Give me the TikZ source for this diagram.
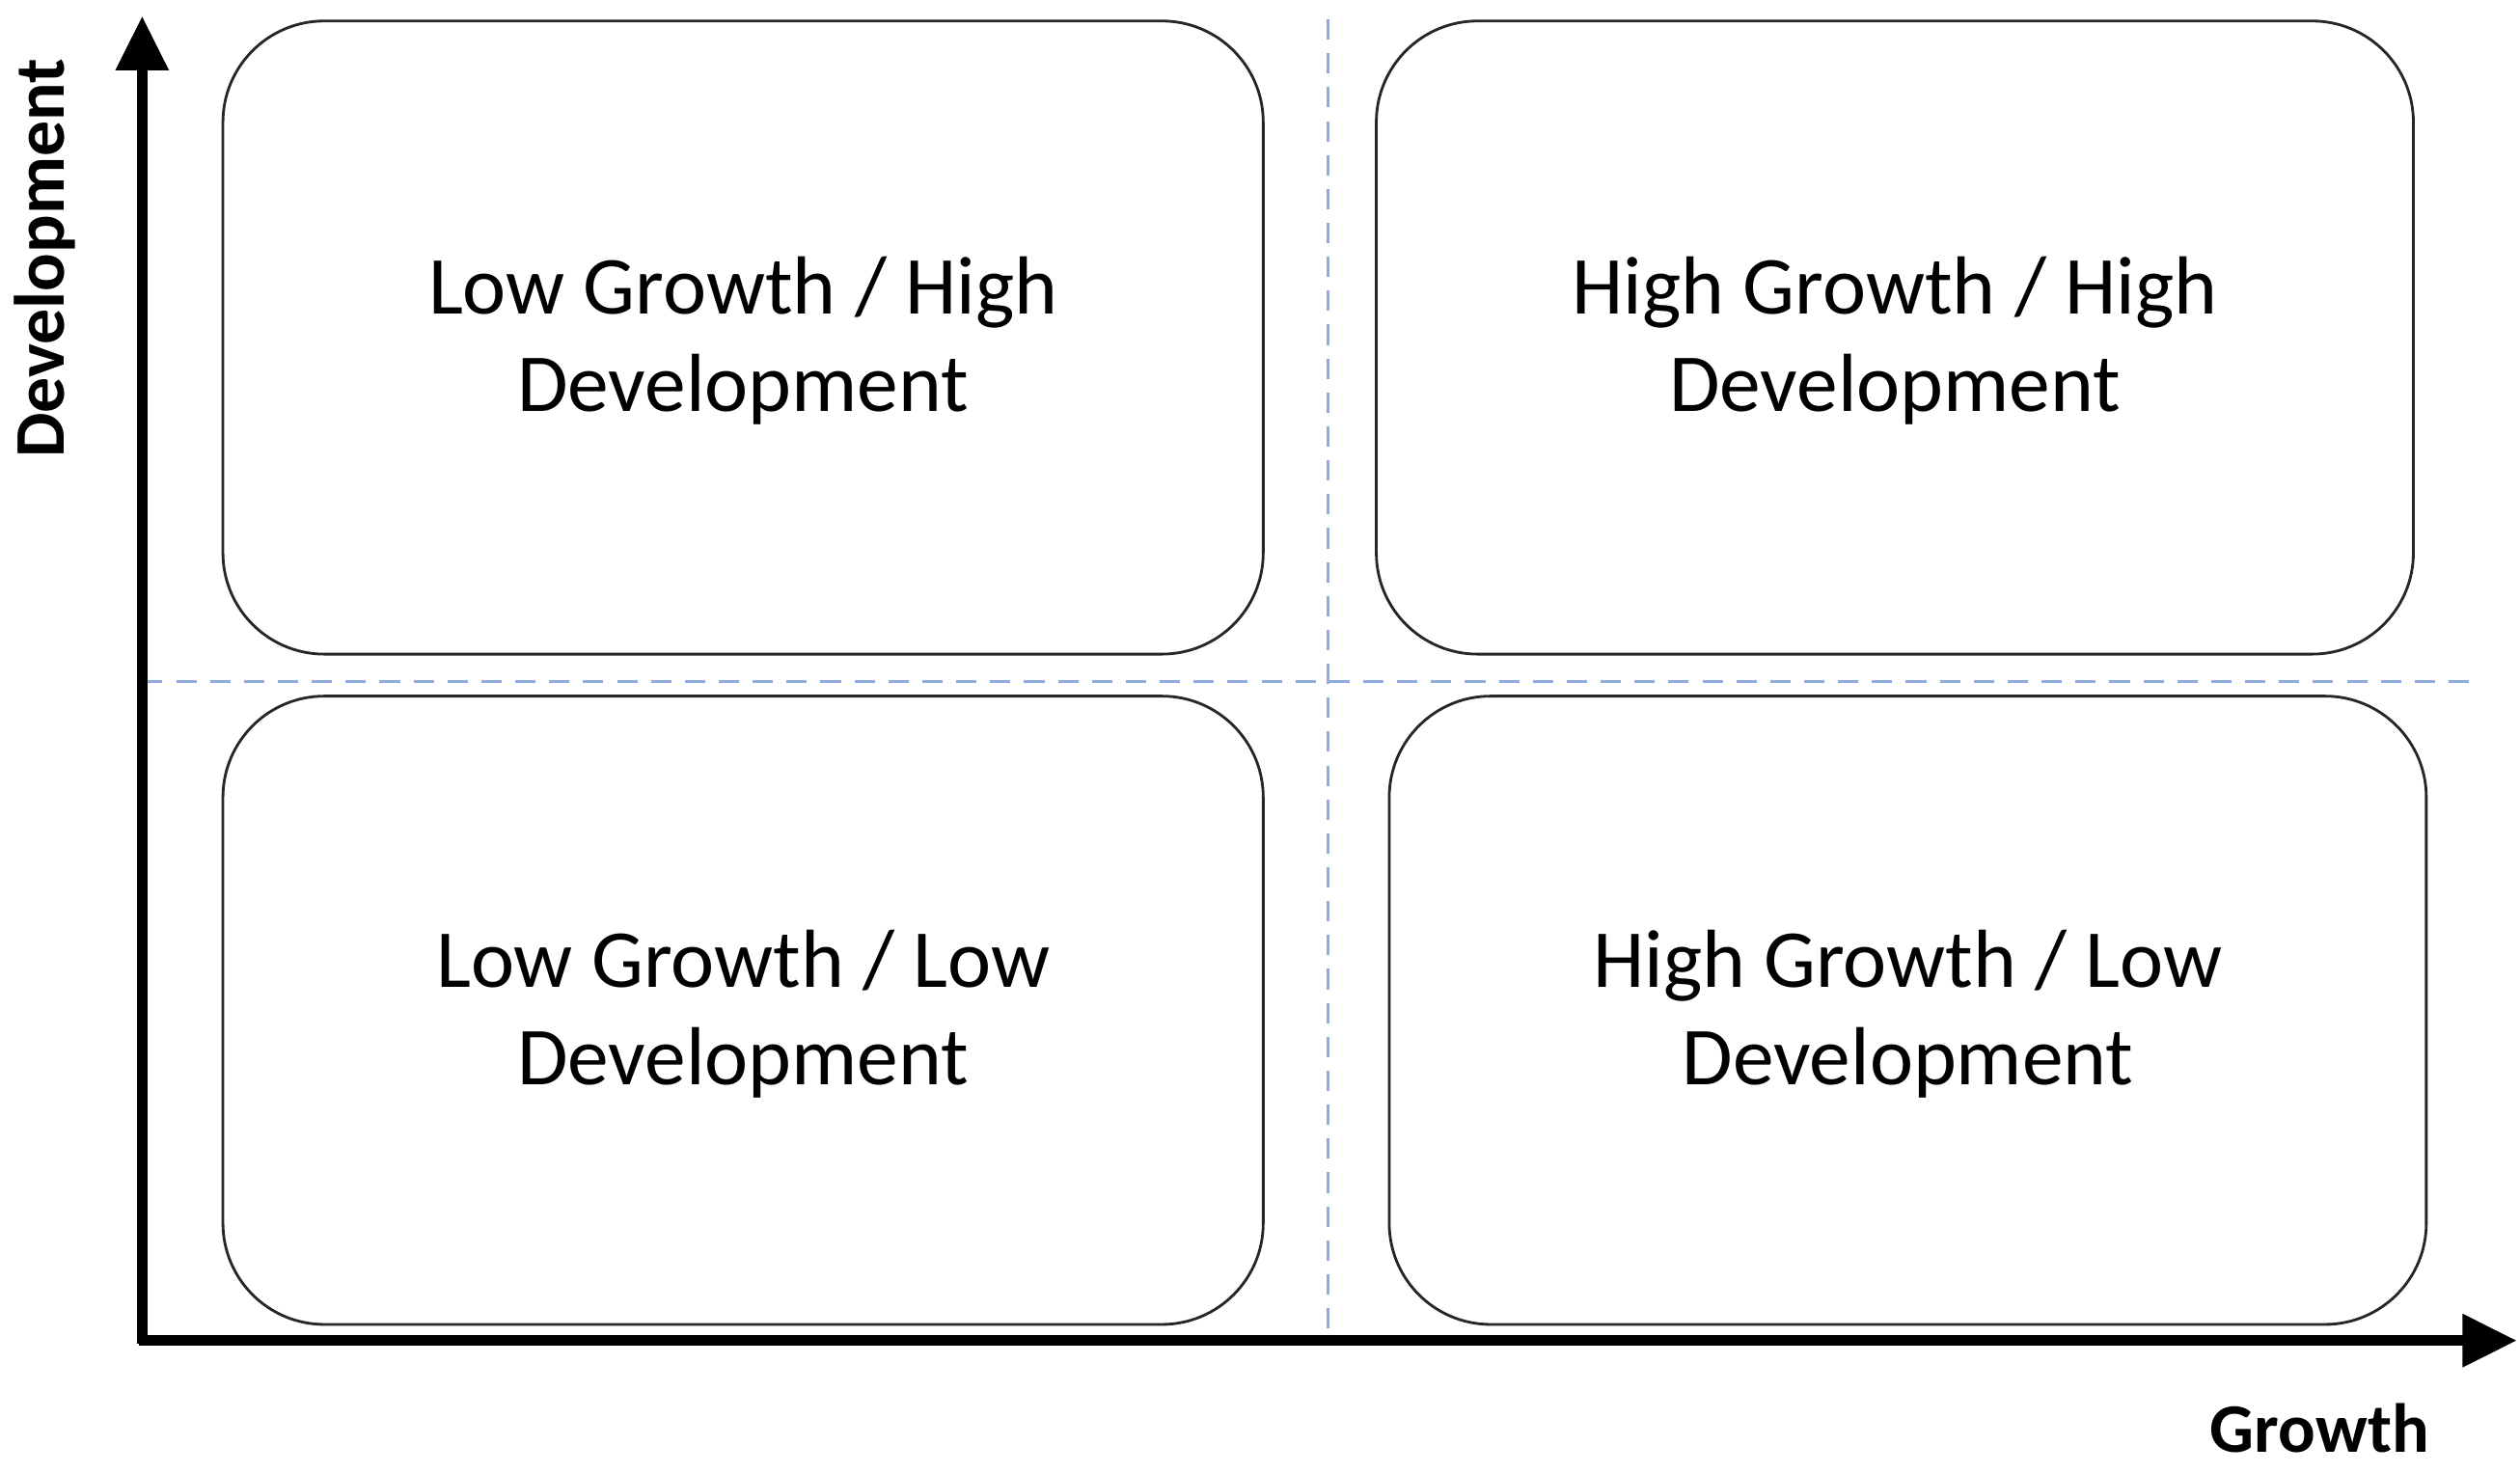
\documentclass[tikz,border=0pt]{standalone}
\usepackage{fontspec}
\setmainfont{Carlito}
\usetikzlibrary{arrows.meta}
\definecolor{dashblue}{HTML}{8FAADC}
\begin{document}
\begin{tikzpicture}[x=0.01674cm,y=-0.01674cm,
  quad/.style={draw=black!85,line width=0.8pt,rounded corners=1.05cm},
  qtext/.style={align=center,font=\fontsize{24.3}{28.6}\selectfont},
  axis/.style={line width=3pt,-{Triangle[length=16pt,width=15pt]}},
  guide/.style={dashblue,line width=1pt,dash pattern=on 6pt off 4pt}]
\useasboundingbox (0,0) rectangle (1560,912);
\draw[guide] (822,12) -- (822,832);
\draw[guide] (88,422) -- (1530,422);
\draw[quad] (138,13) rectangle (782,405);
\draw[quad] (852,13) rectangle (1494,405);
\draw[quad] (138,431) rectangle (782,820);
\draw[quad] (860,431) rectangle (1502,820);
\node[qtext] (tl) at (460,211) {Low Growth / High\\Development};
\node[qtext] (tr) at (1173,211) {High Growth / High\\Development};
\node[qtext] (bl) at (460,628) {Low Growth / Low\\Development};
\node[qtext] (br) at (1181,628) {High Growth / Low\\Development};
\coordinate (ytip) at (88,10);
\coordinate (xtip) at (1558,830);
\draw[axis] (88,832) -- (ytip);
\draw[axis] (86,830) -- (xtip);
\node[rotate=90,font=\bfseries\fontsize{21}{24}\selectfont] (ylab) at (28,160) {Development};
\node[font=\bfseries\fontsize{20.5}{24}\selectfont] (xlab) at (1436,884) {Growth};
\end{tikzpicture}
\end{document}
